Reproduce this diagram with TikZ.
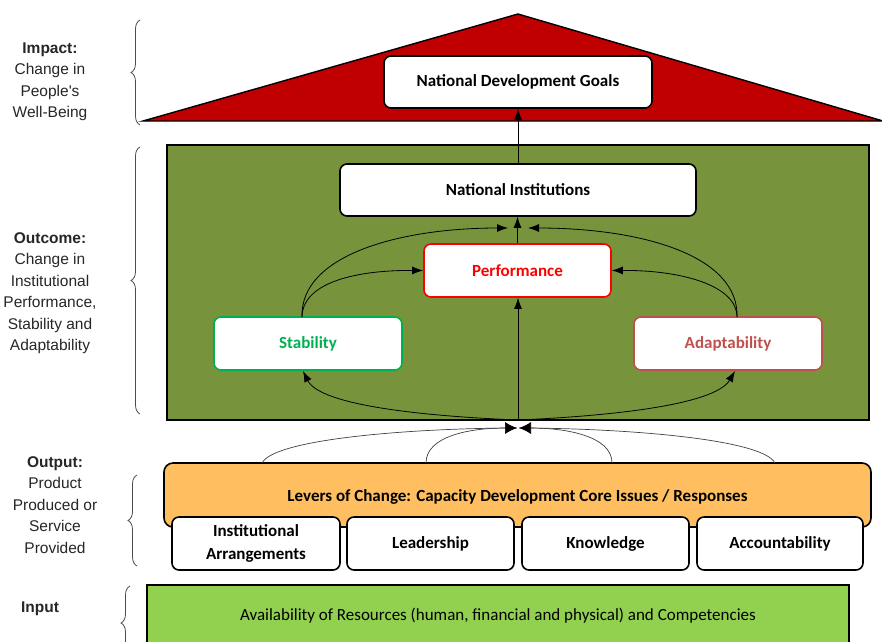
\documentclass[tikz,border=0pt]{standalone}
\usepackage{fontspec}
\setmainfont{Carlito}
\newfontfamily\lab{Liberation Sans}
\usetikzlibrary{arrows.meta,decorations.pathreplacing}
\definecolor{impred}{HTML}{C00000}
\definecolor{outgreen}{HTML}{77933C}
\definecolor{levorange}{HTML}{FFBF60}
\definecolor{ingreen}{HTML}{92D050}
\definecolor{stabgreen}{HTML}{00B050}
\definecolor{adaptred}{HTML}{C0504D}
\definecolor{perfred}{HTML}{FF0000}
\definecolor{labgray}{HTML}{262626}
\begin{document}
\begin{tikzpicture}[x=1pt,y=-1pt,
  wbox/.style={draw=black,line width=1.6pt,fill=white,rounded corners=7pt,inner sep=0pt,font=\fontsize{17}{19}\selectfont\bfseries,align=center},
  conn/.style={line width=0.8pt,-{Latex[length=11pt,width=8pt]}},
  plain/.style={line width=0.7pt,draw=black!75},
  bow/.style={line width=0.7pt,draw=black!75,-{Latex[length=12pt,width=12pt,fill=black,color=black]}},
  bracest/.style={draw=black!70,line width=0.8pt,decorate,decoration={brace,amplitude=9pt}},
  lbl/.style={font=\lab\fontsize{15.5}{21.5}\selectfont,text=labgray,align=center}]
\useasboundingbox (0,0) rectangle (882,641);
% impact triangle
\draw[fill=impred,line width=1.4pt,line join=miter] (143,121) -- (518,14) -- (883,121) -- cycle;
\node[wbox,minimum width=268pt,minimum height=52pt] (ndg) at (518,82) {National Development Goals};
% outcome box
\node[draw=black,line width=1.6pt,fill=outgreen,minimum width=702pt,minimum height=275pt,inner sep=0pt] (out) at (518,282.5) {};
\node[wbox,minimum width=356pt,minimum height=52pt] (ni) at (518,190) {National Institutions};
\node[wbox,draw=perfred,text=perfred,minimum width=187pt,minimum height=53pt] (perf) at (517.5,270.5) {Performance};
\node[wbox,draw=stabgreen,text=stabgreen,minimum width=188pt,minimum height=53pt] (stab) at (308,343.5) {Stability};
\node[wbox,draw=adaptred,text=adaptred,minimum width=188pt,minimum height=53pt] (adapt) at (728,343.5) {Adaptability};
% coordinates
\coordinate (sTop) at (302,317);
\coordinate (aTop) at (737,317);
\coordinate (niL) at (508,228);
\coordinate (niR) at (528,228);
\coordinate (oBot) at (518,420);
\coordinate (sBot) at (303,371);
\coordinate (aBot) at (735,371);
% arrows in outcome
\draw[conn] (perf.north) -- (perf.north |- ni.south);
\draw[conn] (ni.north) -- (ndg.south);
\draw[conn] (sTop) .. controls (302,285) and (350,270) .. (perf.west);
\draw[conn] (sTop) .. controls (300,255) and (400,228) .. (niL);
\draw[conn] (aTop) .. controls (737,285) and (680,270) .. (perf.east);
\draw[conn] (aTop) .. controls (739,255) and (640,228) .. (niR);
\draw[conn] (oBot) -- (oBot |- perf.south);
\draw[conn] (oBot) .. controls (420,416) and (320,405) .. (sBot);
\draw[conn] (oBot) .. controls (610,416) and (715,405) .. (aBot);
% levers
\node[draw=black,line width=1.6pt,fill=levorange,rounded corners=9pt,minimum width=707pt,minimum height=64pt,inner sep=0pt] (lev) at (517.5,495) {};
\node[font=\fontsize{17}{19}\selectfont\bfseries] (levt) at (517.5,497) {Levers of Change: Capacity Development Core Issues / Responses};
\node[wbox,minimum width=168pt,minimum height=53pt,font=\fontsize{17}{23}\selectfont\bfseries] (ia) at (256,543.5) {Institutional\\Arrangements};
\node[wbox,minimum width=167pt,minimum height=53pt] (lead) at (430.5,543.5) {Leadership};
\node[wbox,minimum width=167pt,minimum height=53pt] (know) at (605.5,543.5) {Knowledge};
\node[wbox,minimum width=166pt,minimum height=53pt] (acc) at (780,543.5) {Accountability};
% bowtie curves
\coordinate (bl) at (517,428);
\coordinate (br) at (519,428);
\coordinate (l1) at (262,463);
\coordinate (l2) at (426,463);
\coordinate (l3) at (612,463);
\coordinate (l4) at (775,463);
\draw[plain] (l1) .. controls (275,438) and (420,428) .. (bl);
\draw[plain] (l4) .. controls (762,438) and (615,428) .. (br);
\draw[bow] (l2) .. controls (426,436) and (470,428) .. (bl);
\draw[bow] (l3) .. controls (612,436) and (566,428) .. (br);
% input
\node[draw=black,line width=1.6pt,fill=ingreen,minimum width=702pt,minimum height=70pt,inner sep=0pt,anchor=north] (inp) at (498,584) {};
\node[font=\fontsize{17}{19}\selectfont] (inpt) at (498,616) {Availability of Resources (human, financial and physical) and Competencies};
% braces and labels
\draw[bracest] (140,125) -- (140,20);
\draw[bracest] (140,414) -- (140,147);
\draw[bracest] (137,566) -- (137,475);
\draw[bracest] (130,660) -- (130,586);
\node[lbl] (imp) at (50,82) {\textbf{Impact:}\\Change in\\People's\\Well-Being};
\node[lbl] (outc) at (50,293) {\textbf{Outcome:}\\Change in\\Institutional\\Performance,\\Stability and\\Adaptability};
\node[lbl] (outp) at (55,505) {\textbf{Output:}\\Product\\Produced or\\Service\\Provided};
\node[lbl] (inl) at (40,609) {\textbf{Input}};
\end{tikzpicture}
\end{document}
